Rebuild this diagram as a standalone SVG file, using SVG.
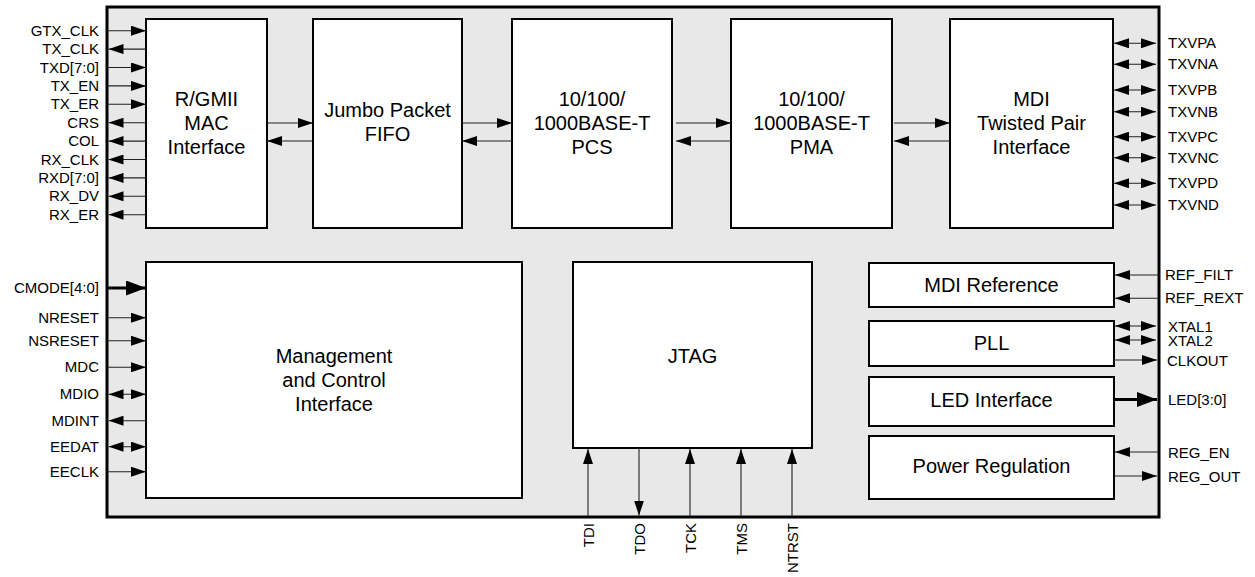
<svg xmlns="http://www.w3.org/2000/svg" width="1255" height="577" viewBox="0 0 1255 577">
<style>
.blk{fill:#fff;stroke:#000;stroke-width:2}
.bt{font-family:"Liberation Sans",Arial,sans-serif;font-size:20px;fill:#000;text-anchor:middle}
.pl{font-family:"Liberation Sans",Arial,sans-serif;font-size:15px;fill:#000}
.pr{text-anchor:end}
.wi{stroke:#222;stroke-width:1.1;fill:none;marker-end:url(#ah)}
.wb{stroke:#222;stroke-width:1.1;fill:none;marker-start:url(#ah);marker-end:url(#ah)}
.wt{stroke:#000;stroke-width:3;fill:none;marker-end:url(#ahb)}
</style>
<defs>
<marker id="ah" markerUnits="userSpaceOnUse" markerWidth="15" markerHeight="10" refX="15" refY="5" orient="auto-start-reverse" viewBox="0 0 15 10">
<path d="M0,0 L15,5 L0,10 z" fill="#000"/>
</marker>
<marker id="ahb" markerUnits="userSpaceOnUse" markerWidth="20" markerHeight="15" refX="20" refY="7.5" orient="auto-start-reverse" viewBox="0 0 20 15">
<path d="M0,0 L20,7.5 L0,15 z" fill="#000"/>
</marker>
</defs>
<rect x="107" y="7" width="1052" height="510" fill="#e8e8e8" stroke="#000" stroke-width="3"/>

<g id="rgmii"><rect class="blk" x="146" y="19" width="121" height="209"/>
<text class="bt" x="206.5" y="106">R/GMII</text><text class="bt" x="206.5" y="130">MAC</text><text class="bt" x="206.5" y="154">Interface</text></g>
<g id="fifo"><rect class="blk" x="313" y="19" width="149" height="209"/>
<text class="bt" x="387.5" y="117">Jumbo Packet</text><text class="bt" x="387.5" y="141">FIFO</text></g>
<g id="pcs"><rect class="blk" x="512" y="19" width="160" height="209"/>
<text class="bt" x="592" y="106">10/100/</text><text class="bt" x="592" y="130">1000BASE-T</text><text class="bt" x="592" y="154">PCS</text></g>
<g id="pma"><rect class="blk" x="731" y="19" width="161" height="209"/>
<text class="bt" x="811.5" y="106">10/100/</text><text class="bt" x="811.5" y="130">1000BASE-T</text><text class="bt" x="811.5" y="154">PMA</text></g>
<g id="mdi"><rect class="blk" x="950" y="19" width="163" height="209"/>
<text class="bt" x="1031.5" y="106">MDI</text><text class="bt" x="1031.5" y="130">Twisted Pair</text><text class="bt" x="1031.5" y="154">Interface</text></g>
<g id="mgmt"><rect class="blk" x="146" y="262" width="376" height="236"/>
<text class="bt" x="334" y="363">Management</text><text class="bt" x="334" y="387">and Control</text><text class="bt" x="334" y="411">Interface</text></g>
<g id="jtag"><rect class="blk" x="573" y="262" width="239" height="186"/>
<text class="bt" x="692.5" y="363">JTAG</text></g>
<g id="mdiref"><rect class="blk" x="869" y="263" width="245" height="44"/>
<text class="bt" x="991.5" y="292">MDI Reference</text></g>
<g id="pll"><rect class="blk" x="869" y="321" width="245" height="45"/>
<text class="bt" x="991.5" y="350">PLL</text></g>
<g id="led"><rect class="blk" x="869" y="377" width="245" height="49"/>
<text class="bt" x="991.5" y="407">LED Interface</text></g>
<g id="power"><rect class="blk" x="869" y="436" width="245" height="63"/>
<text class="bt" x="991.5" y="473">Power Regulation</text></g>

<g id="connectors">
<line class="wi" x1="267" y1="123" x2="313" y2="123"/><line class="wi" x1="313" y1="141" x2="267" y2="141"/>
<line class="wi" x1="462" y1="123" x2="512" y2="123"/><line class="wi" x1="512" y1="141" x2="462" y2="141"/>
<line class="wi" x1="676" y1="123" x2="731" y2="123"/><line class="wi" x1="731" y1="141" x2="676" y2="141"/>
<line class="wi" x1="894" y1="123" x2="950" y2="123"/><line class="wi" x1="950" y1="141" x2="894" y2="141"/>
<line class="wi" x1="108" y1="30.7" x2="146" y2="30.7"/>
<line class="wi" x1="146" y1="49.1" x2="108.5" y2="49.1"/>
<line class="wi" x1="108" y1="67.5" x2="146" y2="67.5"/>
<line class="wi" x1="108" y1="85.9" x2="146" y2="85.9"/>
<line class="wi" x1="108" y1="104.3" x2="146" y2="104.3"/>
<line class="wi" x1="146" y1="122.7" x2="108.5" y2="122.7"/>
<line class="wi" x1="146" y1="141.1" x2="108.5" y2="141.1"/>
<line class="wi" x1="146" y1="159.5" x2="108.5" y2="159.5"/>
<line class="wi" x1="146" y1="177.9" x2="108.5" y2="177.9"/>
<line class="wi" x1="146" y1="196.3" x2="108.5" y2="196.3"/>
<line class="wi" x1="146" y1="214.7" x2="108.5" y2="214.7"/>
<line class="wt" x1="108" y1="288" x2="146" y2="288"/>
<line class="wi" x1="108" y1="317.7" x2="146" y2="317.7"/>
<line class="wi" x1="108" y1="340.7" x2="146" y2="340.7"/>
<line class="wi" x1="108" y1="367.3" x2="146" y2="367.3"/>
<line class="wb" x1="108.5" y1="394.3" x2="146" y2="394.3"/>
<line class="wi" x1="146" y1="420.7" x2="108.5" y2="420.7"/>
<line class="wb" x1="108.5" y1="446.7" x2="146" y2="446.7"/>
<line class="wi" x1="108" y1="471.7" x2="146" y2="471.7"/>
<line class="wb" x1="1114" y1="43.3" x2="1156" y2="43.3"/>
<line class="wb" x1="1114" y1="64.3" x2="1156" y2="64.3"/>
<line class="wb" x1="1114" y1="90" x2="1156" y2="90"/>
<line class="wb" x1="1114" y1="111.7" x2="1156" y2="111.7"/>
<line class="wb" x1="1114" y1="136.7" x2="1156" y2="136.7"/>
<line class="wb" x1="1114" y1="157.7" x2="1156" y2="157.7"/>
<line class="wb" x1="1114" y1="183.3" x2="1156" y2="183.3"/>
<line class="wb" x1="1114" y1="205" x2="1156" y2="205"/>
<line class="wi" x1="1158" y1="275" x2="1115" y2="275"/>
<line class="wi" x1="1158" y1="298.3" x2="1115" y2="298.3"/>
<line class="wb" x1="1115" y1="326" x2="1156" y2="326"/>
<line class="wb" x1="1115" y1="340" x2="1156" y2="340"/>
<line class="wi" x1="1114" y1="360" x2="1157" y2="360"/>
<line class="wt" x1="1114" y1="399.5" x2="1157" y2="399.5"/>
<line class="wi" x1="1158" y1="452" x2="1115" y2="452"/>
<line class="wi" x1="1114" y1="476" x2="1157" y2="476"/>
<line class="wi" x1="588" y1="516" x2="588" y2="449"/>
<line class="wi" x1="639" y1="449" x2="639" y2="515.5"/>
<line class="wi" x1="690" y1="516" x2="690" y2="449"/>
<line class="wi" x1="741" y1="516" x2="741" y2="449"/>
<line class="wi" x1="792" y1="516" x2="792" y2="449"/>
</g>

<g id="labels">
<text class="pl pr" x="99" y="35.7">GTX_CLK</text>
<text class="pl pr" x="99" y="54.1">TX_CLK</text>
<text class="pl pr" x="99" y="72.5">TXD[7:0]</text>
<text class="pl pr" x="99" y="90.9">TX_EN</text>
<text class="pl pr" x="99" y="109.3">TX_ER</text>
<text class="pl pr" x="99" y="127.7">CRS</text>
<text class="pl pr" x="99" y="146.1">COL</text>
<text class="pl pr" x="99" y="164.5">RX_CLK</text>
<text class="pl pr" x="99" y="182.9">RXD[7:0]</text>
<text class="pl pr" x="99" y="201.3">RX_DV</text>
<text class="pl pr" x="99" y="219.7">RX_ER</text>
<text class="pl pr" x="99" y="293">CMODE[4:0]</text>
<text class="pl pr" x="99" y="322.7">NRESET</text>
<text class="pl pr" x="99" y="345.7">NSRESET</text>
<text class="pl pr" x="99" y="372.3">MDC</text>
<text class="pl pr" x="99" y="399.3">MDIO</text>
<text class="pl pr" x="99" y="425.7">MDINT</text>
<text class="pl pr" x="99" y="451.7">EEDAT</text>
<text class="pl pr" x="99" y="476.7">EECLK</text>
<text class="pl" x="1168" y="48.3">TXVPA</text>
<text class="pl" x="1168" y="69.3">TXVNA</text>
<text class="pl" x="1168" y="95">TXVPB</text>
<text class="pl" x="1168" y="116.7">TXVNB</text>
<text class="pl" x="1168" y="141.7">TXVPC</text>
<text class="pl" x="1168" y="162.7">TXVNC</text>
<text class="pl" x="1168" y="188.3">TXVPD</text>
<text class="pl" x="1168" y="210">TXVND</text>
<text class="pl" x="1165" y="280">REF_FILT</text>
<text class="pl" x="1165" y="303.3">REF_REXT</text>
<text class="pl" x="1168" y="331.5">XTAL1</text>
<text class="pl" x="1168" y="346">XTAL2</text>
<text class="pl" x="1167" y="366">CLKOUT</text>
<text class="pl" x="1168" y="405">LED[3:0]</text>
<text class="pl" x="1168" y="457.5">REG_EN</text>
<text class="pl" x="1168" y="481.5">REG_OUT</text>
<text class="pl pr" transform="translate(593.5,523) rotate(-90)">TDI</text>
<text class="pl pr" transform="translate(644.5,523) rotate(-90)">TDO</text>
<text class="pl pr" transform="translate(695.5,523) rotate(-90)">TCK</text>
<text class="pl pr" transform="translate(746.5,523) rotate(-90)">TMS</text>
<text class="pl pr" transform="translate(797.5,523) rotate(-90)">NTRST</text>
</g>
</svg>
